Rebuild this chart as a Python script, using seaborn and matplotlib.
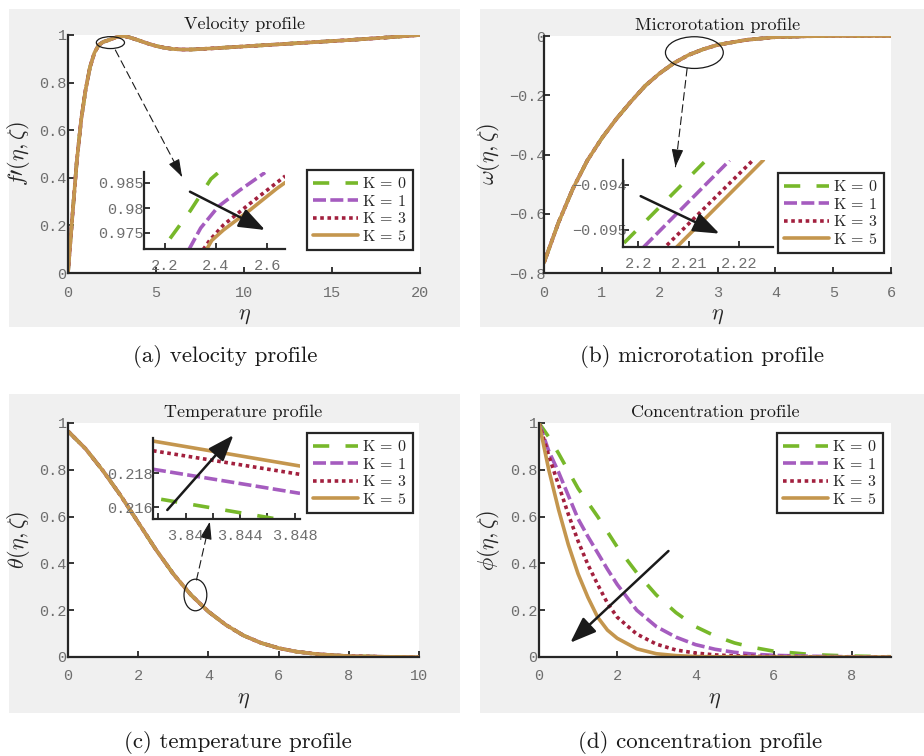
import numpy as np
import pandas as pd
import matplotlib
matplotlib.use("Agg")
import matplotlib.pyplot as plt
import seaborn as sns
from matplotlib.lines import Line2D
from matplotlib.patches import Ellipse, Rectangle

# ----------------------------------------------------------------- data
K_VALUES = [0, 1, 3, 5]
K_LABELS = [r"$\mathrm{K}\, =\, %d$" % k for k in K_VALUES]

# (a) velocity profile f'(eta) -- the four K curves coincide at this scale
eta_vel = [0, 0.25, 0.5, 0.75, 1.0, 1.25, 1.5, 1.75, 2.0, 2.25, 2.5, 2.75, 3.0,
           3.25, 3.5, 4.0, 4.5, 5.0, 5.5, 6.0, 6.5, 7.0, 8.0, 10, 12, 14, 16, 18, 20]
vel_profile = [0, 0.24, 0.47, 0.645, 0.77, 0.865, 0.925, 0.958, 0.971, 0.977,
               0.984, 0.991, 0.995, 0.994, 0.990, 0.978, 0.965, 0.954, 0.946,
               0.941, 0.939, 0.939, 0.943, 0.952, 0.961, 0.970, 0.979, 0.989, 1.0]
# (a) zoomed window
vel_zoom_eta = [[2.220, 2.300, 2.380, 2.409],
                [2.294, 2.340, 2.409, 2.494, 2.592],
                [2.350, 2.376, 2.429, 2.533, 2.671],
                [2.363, 2.383, 2.429, 2.533, 2.638, 2.671]]
vel_zoom_val = [[0.9739, 0.9795, 0.9858, 0.9871],
                [0.9717, 0.9760, 0.9803, 0.9836, 0.9871],
                [0.9717, 0.9736, 0.9766, 0.9809, 0.9864],
                [0.9717, 0.9735, 0.9756, 0.9796, 0.9839, 0.9851]]

# (b) microrotation profile omega(eta)
eta_mic = [0, 0.25, 0.5, 0.75, 1.0, 1.25, 1.5, 1.75, 2.0, 2.25, 2.5, 2.75, 3.0,
           3.5, 4.0, 4.5, 5.0, 5.5, 6.0]
mic_profile = [-0.765, -0.63, -0.515, -0.42, -0.345, -0.28, -0.222, -0.168,
               -0.126, -0.091, -0.064, -0.045, -0.030, -0.013, -0.004, -0.001,
               0.0, 0.0, 0.0]
# (b) zoomed window
mic_zoom_eta = [[2.1972, 2.2134], [2.2011, 2.2181], [2.2057, 2.2225], [2.2073, 2.2248]]
mic_zoom_val = [[-0.09530, -0.09345], [-0.09539, -0.09345],
                [-0.09535, -0.09347], [-0.09543, -0.09344]]

# (c) temperature profile theta(eta)
eta_tem = [0, 0.5, 1.0, 1.5, 2.0, 2.5, 3.0, 3.5, 4.0, 4.5, 5.0, 5.5, 6.0, 6.5,
           7.0, 7.5, 8.0, 9.0, 10.0]
tem_profile = [0.965, 0.89, 0.795, 0.69, 0.575, 0.46, 0.355, 0.266, 0.194, 0.137,
               0.092, 0.060, 0.038, 0.023, 0.014, 0.008, 0.004, 0.001, 0.0]
# (c) zoomed window
tem_zoom_eta = [[3.8382, 3.8484], [3.8376, 3.8484], [3.8376, 3.8484], [3.8376, 3.8484]]
tem_zoom_val = [[0.21647, 0.21508], [0.21824, 0.21682],
                [0.21933, 0.21794], [0.21990, 0.21843]]

# (d) concentration profile phi(eta)
eta_con = [0, 0.25, 0.5, 0.75, 1.0, 1.25, 1.5, 1.75, 2.0, 2.5, 3.0, 3.5, 4.0,
           4.5, 5.0, 5.5, 6.0, 7.0, 8.0, 9.0]
con_K0 = [1.0, 0.94, 0.87, 0.795, 0.72, 0.66, 0.60, 0.535, 0.47, 0.36, 0.265,
          0.19, 0.13, 0.09, 0.06, 0.04, 0.025, 0.01, 0.004, 0.001]
con_K1 = [1.0, 0.88, 0.79, 0.69, 0.59, 0.515, 0.445, 0.375, 0.31, 0.20, 0.13,
          0.085, 0.053, 0.033, 0.02, 0.012, 0.007, 0.003, 0.001, 0.0]
con_K3 = [1.0, 0.86, 0.735, 0.61, 0.495, 0.395, 0.31, 0.23, 0.17, 0.098, 0.055,
          0.03, 0.017, 0.009, 0.005, 0.003, 0.002, 0.001, 0.0, 0.0]
con_K5 = [1.0, 0.80, 0.63, 0.48, 0.355, 0.255, 0.17, 0.115, 0.08, 0.035, 0.014,
          0.006, 0.002, 0.001, 0.001, 0.0, 0.0, 0.0, 0.0, 0.0]

# ----------------------------------------------------------------- style
W, H, DPI = 924, 756, 100
COLORS = ["#77B82A", "#A55CBF", "#A2203E", "#C4964E"]
DASHES = [(4.5, 4.5), (3.6, 1.2), (1.0, 1.0), ""]
LW = 2.6
PALETTE = dict(zip(K_LABELS, COLORS))
DASHMAP = dict(zip(K_LABELS, DASHES))
TICK_FONT = "Liberation Mono"
TICK_COLOR = "#6e6e6e"
AX_COLOR = "#262626"

sns.set_theme(style="white")
plt.rcParams["font.family"] = ["DejaVu Sans"]
plt.rcParams["mathtext.fontset"] = "cm"
plt.rcParams["axes.unicode_minus"] = True

fig = plt.figure(figsize=(W / DPI, H / DPI), dpi=DPI)
fig.patch.set_facecolor("white")


def frac_rect(x0, top, x1, bottom):
    return [x0 / W, 1 - bottom / H, (x1 - x0) / W, (bottom - top) / H]


def panel_bg(x0, top, x1, bottom):
    fig.add_artist(Rectangle((x0 / W, 1 - bottom / H), (x1 - x0) / W, (bottom - top) / H,
                             transform=fig.transFigure, facecolor="#f0f0f0",
                             edgecolor="none", zorder=-10))


def draw_curves(ax, etas, vals):
    frames = [pd.DataFrame({"eta": e, "val": v, "K": k})
              for k, e, v in zip(K_LABELS, etas, vals)]
    df = pd.concat(frames, ignore_index=True)
    sns.lineplot(data=df, x="eta", y="val", hue="K", style="K",
                 hue_order=K_LABELS, style_order=K_LABELS,
                 palette=PALETTE, dashes=DASHMAP, lw=LW, legend=False,
                 estimator=None, sort=False, ax=ax)
    ax.set_xlabel("")
    ax.set_ylabel("")


def style_axes(ax, xlim, ylim, xticks, xlabels, yticks, ylabels,
               xpad=9, ypad=1, size=11, ticklen=4):
    ax.set_xlim(*xlim)
    ax.set_ylim(*ylim)
    ax.set_xticks(xticks)
    ax.set_xticklabels(xlabels, fontfamily=TICK_FONT, fontsize=size, color=TICK_COLOR)
    ax.set_yticks(yticks)
    ax.set_yticklabels(ylabels, fontfamily=TICK_FONT, fontsize=size, color=TICK_COLOR)
    for s in ["top", "right"]:
        ax.spines[s].set_visible(False)
    for s in ["left", "bottom"]:
        ax.spines[s].set_linewidth(1.6)
        ax.spines[s].set_color(AX_COLOR)
    ax.tick_params(direction="in", length=ticklen, width=1.3, color=AX_COLOR,
                   bottom=True, left=True)
    ax.tick_params(axis="x", pad=xpad)
    ax.tick_params(axis="y", pad=ypad)
    ax.grid(False)


def add_legend(ax, x0, top):
    handles = [Line2D([0], [0], color=c, lw=LW,
                      linestyle=(0, d) if d else "-")
               for c, d in zip(COLORS, DASHES)]
    leg = ax.legend(handles, K_LABELS, loc="upper left",
                    bbox_to_anchor=(x0 / W, 1 - top / H), bbox_transform=fig.transFigure,
                    frameon=True, fancybox=False, framealpha=1, edgecolor=AX_COLOR,
                    fontsize=11.5, handlelength=2.8, handletextpad=0.25,
                    labelspacing=0.15, borderpad=0.4, borderaxespad=0)
    leg.get_frame().set_linewidth(1.6)
    leg.set_zorder(20)


def dashed_arrow(ax, start, end):
    ax.annotate("", xy=end, xytext=start, annotation_clip=False,
                arrowprops=dict(arrowstyle="-", lw=0.8, ls=(0, (7, 4)), color="k",
                                shrinkA=0, shrinkB=0))
    back = (end[0] - 0.08 * (end[0] - start[0]), end[1] - 0.08 * (end[1] - start[1]))
    ax.annotate("", xy=end, xytext=back, annotation_clip=False,
                arrowprops=dict(arrowstyle="-|>,head_length=0.9,head_width=0.3", lw=0.8,
                                color="k", shrinkA=0, shrinkB=0, mutation_scale=12))


def solid_arrow(ax, start, end):
    ax.annotate("", xy=end, xytext=start, annotation_clip=False,
                arrowprops=dict(arrowstyle="-|>,head_length=0.8,head_width=0.3", lw=1.8,
                                color="k", shrinkA=0, shrinkB=0, mutation_scale=20))


def ring(ax, center, w, h):
    ax.add_patch(Ellipse(center, w, h, fill=False, lw=0.9, edgecolor="k",
                         clip_on=False, zorder=10))


def main_labels(ax, title, xlabel, ylabel, ylab_x):
    ax.set_title(title, fontfamily="cmr10", fontsize=13, pad=4, color="k")
    ax.set_xlabel(xlabel, fontsize=16, color=AX_COLOR)
    ax.set_ylabel(ylabel, fontsize=16, color=AX_COLOR)
    ax.xaxis.set_label_coords(0.5, -0.14)
    ax.yaxis.set_label_coords(ylab_x, 0.5)


# ----------------------------------------------------------------- backgrounds
panel_bg(9, 9, 460, 327)
panel_bg(480, 9, 924, 327)
panel_bg(9, 394, 460, 713)
panel_bg(480, 394, 924, 713)

# ----------------------------------------------------------------- (a)
axA = fig.add_axes(frac_rect(68, 35, 420, 273), facecolor="white")
draw_curves(axA, [eta_vel] * 4, [vel_profile] * 4)
style_axes(axA, (0, 20), (0, 1), [0, 5, 10, 15, 20], ["0", "5", "10", "15", "20"],
           [0, 0.2, 0.4, 0.6, 0.8, 1], ["0", "0.2", "0.4", "0.6", "0.8", "1"])
main_labels(axA, "Velocity profile", r"$\eta$", r"$f\prime(\eta,\zeta)$", -0.103)
ring(axA, (2.41, 0.968), 1.6, 0.05)
dashed_arrow(axA, (2.69, 0.937), (6.48, 0.404))
add_legend(axA, 307, 170)

insA = fig.add_axes(frac_rect(144, 172, 285, 249), facecolor="none")
draw_curves(insA, vel_zoom_eta, vel_zoom_val)
style_axes(insA, (2.118, 2.67), (0.9718, 0.9872), [2.2, 2.4, 2.6], ["2.2", "2.4", "2.6"],
           [0.975, 0.98, 0.985], ["0.975", "0.98", "0.985"], xpad=7, ypad=0.5)
solid_arrow(insA, (2.298, 0.98326), (2.592, 0.9756))

# ----------------------------------------------------------------- (b)
axB = fig.add_axes(frac_rect(544, 36, 891, 273), facecolor="white")
draw_curves(axB, [eta_mic] * 4, [mic_profile] * 4)
style_axes(axB, (0, 6), (-0.8, 0), [0, 1, 2, 3, 4, 5, 6],
           ["0", "1", "2", "3", "4", "5", "6"],
           [-0.8, -0.6, -0.4, -0.2, 0], ["\u22120.8", "\u22120.6", "\u22120.4", "\u22120.2", "0"],
           ypad=-1)
main_labels(axB, "Microrotation profile", r"$\eta$", r"$\omega(\eta,\zeta)$", -0.121)
ring(axB, (2.60, -0.056), 1.0, 0.107)
dashed_arrow(axB, (2.475, -0.109), (2.273, -0.4415))
add_legend(axB, 778, 173)

insB = fig.add_axes(frac_rect(623, 160, 773, 247), facecolor="none")
draw_curves(insB, mic_zoom_eta, mic_zoom_val)
style_axes(insB, (2.197, 2.2267), (-0.09539, -0.09344), [2.2, 2.21, 2.22],
           ["2.2", "2.21", "2.22"], [-0.095, -0.094], ["\u22120.095", "\u22120.094"],
           xpad=7, ypad=-3)
solid_arrow(insB, (2.2005, -0.09425), (2.2161, -0.09509))

# ----------------------------------------------------------------- (c)
axC = fig.add_axes(frac_rect(68, 423, 419, 657), facecolor="white")
draw_curves(axC, [eta_tem] * 4, [tem_profile] * 4)
style_axes(axC, (0, 10), (0, 1), [0, 2, 4, 6, 8, 10], ["0", "2", "4", "6", "8", "10"],
           [0, 0.2, 0.4, 0.6, 0.8, 1], ["0", "0.2", "0.4", "0.6", "0.8", "1"])
main_labels(axC, "Temperature profile", r"$\eta$", r"$\theta(\eta,\zeta)$", -0.103)
ring(axC, (3.63, 0.265), 0.65, 0.135)
dashed_arrow(axC, (3.66, 0.329), (4.04, 0.578))
add_legend(axC, 307, 433)

insC = fig.add_axes(frac_rect(153, 438, 300, 519), facecolor="none")
draw_curves(insC, tem_zoom_eta, tem_zoom_val)
style_axes(insC, (3.8376, 3.8484), (0.21531, 0.22008),
           [3.838, 3.840, 3.842, 3.844, 3.846, 3.848],
           ["", "3.84", "", "3.844", "", "3.848"],
           [0.216, 0.218], ["0.216", "0.218"], xpad=7, ypad=0.5)
solid_arrow(insC, (3.83865, 0.21584), (3.84351, 0.22025))

# ----------------------------------------------------------------- (d)
axD = fig.add_axes(frac_rect(539, 423, 891, 657), facecolor="white")
draw_curves(axD, [eta_con] * 4, [con_K0, con_K1, con_K3, con_K5])
style_axes(axD, (0, 9), (0, 1), [0, 2, 4, 6, 8], ["0", "2", "4", "6", "8"],
           [0, 0.2, 0.4, 0.6, 0.8, 1], ["0", "0.2", "0.4", "0.6", "0.8", "1"])
main_labels(axD, "Concentration profile", r"$\eta$", r"$\phi(\eta,\zeta)$", -0.105)
solid_arrow(axD, (3.31, 0.453), (0.80, 0.061))
add_legend(axD, 777, 433)

# ----------------------------------------------------------------- captions
cap_kw = dict(ha="center", va="center", fontfamily="cmr10", fontsize=16.5, color="k")
fig.text(225 / W, 1 - 357 / H, "(a) velocity profile", **cap_kw)
fig.text(702 / W, 1 - 357 / H, "(b) microrotation profile", **cap_kw)
fig.text(238 / W, 1 - 743 / H, "(c) temperature profile", **cap_kw)
fig.text(700 / W, 1 - 743 / H, "(d) concentration profile", **cap_kw)

fig.savefig("out.png", dpi=DPI)
